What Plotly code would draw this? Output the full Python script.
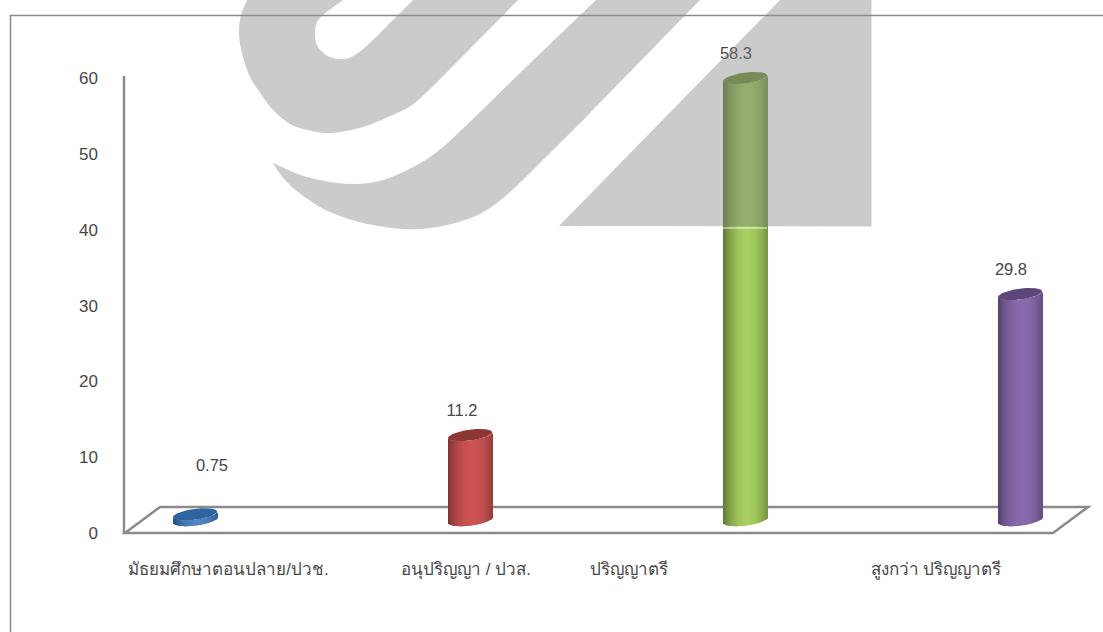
import re
import numpy as np
import plotly.graph_objects as go

# Chart data
CATEGORIES = ["มัธยมศึกษาตอนปลาย/ปวช.", "อนุปริญญา / ปวส.", "ปริญญาตรี", "สูงกว่า ปริญญาตรี"]
VALUES = [0.75, 11.2, 58.3, 29.8]
Y_TICKS = [0, 10, 20, 30, 40, 50, 60]

# Colours per cylinder: shaded edge, lit centre, top cap
EDGE_RGB = [(36, 76, 128), (128, 50, 50), (94, 120, 50), (84, 64, 110)]
LIT_RGB = [(78, 132, 196), (204, 84, 82), (166, 206, 96), (138, 106, 172)]
CAP_RGB = [(48, 100, 160), (140, 54, 54), (117, 147, 63), (92, 70, 122)]

# Page geometry
W, H = 1103, 632
LEFT, TOP, BOTTOM = 124, 20, 533
PLOT_W, PLOT_H = W - LEFT, BOTTOM - TOP
PX_X = 275.0                  # pixels per category step
PX_Y = 7.58                   # pixels per value unit
Y_MAX = PLOT_H / PX_Y
AXIS_TOP = 60.3               # the visible vertical axis stops here
FIRST_BAR_PX = 195

# Cylinder geometry in axis units
FLOOR = 13 / PX_Y             # the bars stand on the receding floor
HALF_W = 22 / PX_X
CAP_B = 5.5 / PX_Y
TILT = 2.8 / PX_Y
SLICES = 44

# Offsets of the value labels from the top of each bar, and category label centres
LABEL_DX = [17, -8, -9, -9]
LABEL_DY = [47, 23, 23, 23]
CAT_LABEL_PX = [228.5, 466, 629, 936]

GREY = "#8a8a8a"
TEXT = "#474747"
FONT = "Liberation Sans, Noto Sans, sans-serif"


def rgb(c):
    return "rgb(%d,%d,%d)" % tuple(int(round(v)) for v in c)


def to_paper(path):
    """Convert an SVG path in page pixels to paper coordinates."""
    def conv(m):
        x, y = float(m.group(1)), float(m.group(2))
        return "%.5f,%.5f" % ((x - LEFT) / PLOT_W, (BOTTOM - y) / PLOT_H)
    return re.sub(r"(-?[\d.]+),(-?[\d.]+)", conv, path)


def smooth(pts):
    """Catmull-Rom curve through pts, as SVG cubic segments (without the initial move)."""
    out = []
    for i in range(len(pts) - 1):
        p0 = pts[max(i - 1, 0)]
        p1, p2 = pts[i], pts[i + 1]
        p3 = pts[min(i + 2, len(pts) - 1)]
        c1 = (p1[0] + (p2[0] - p0[0]) / 6, p1[1] + (p2[1] - p0[1]) / 6)
        c2 = (p2[0] - (p3[0] - p1[0]) / 6, p2[1] - (p3[1] - p1[1]) / 6)
        out.append("C%.1f,%.1f %.1f,%.1f %.1f,%.1f" % (*c1, *c2, *p2))
    return " ".join(out)


fig = go.Figure()

# Cylinder bodies: narrow vertical strips shaded from edge to centre
for k in range(SLICES):
    u = -1 + (2 * k + 1) / SLICES
    lens = CAP_B * np.sqrt(max(1 - u * u, 0))
    shade = min(abs(u - 0.1) / 1.1, 1) ** 2.0
    colors = [rgb(np.array(l) + (np.array(e) - np.array(l)) * shade)
              for l, e in zip(LIT_RGB, EDGE_RGB)]
    fig.add_bar(
        x=list(range(len(VALUES))),
        y=VALUES,
        base=FLOOR + TILT * u - lens,
        width=2 * HALF_W / SLICES * 1.15,
        offset=HALF_W * u - HALF_W / SLICES,
        marker=dict(color=colors, line=dict(width=0)),
        showlegend=False,
        hoverinfo="skip",
    )

# Top caps
theta = np.linspace(0, 2 * np.pi, 73)
for i, v in enumerate(VALUES):
    fig.add_scatter(
        x=i + HALF_W * np.cos(theta),
        y=FLOOR + v + TILT * np.cos(theta) + CAP_B * np.sin(theta),
        mode="lines",
        fill="toself",
        fillcolor=rgb(CAP_RGB[i]),
        line=dict(width=0),
        showlegend=False,
        hoverinfo="skip",
    )

# Value labels
fig.add_scatter(
    x=[i + dx / PX_X for i, dx in enumerate(LABEL_DX)],
    y=[FLOOR + v + dy / PX_Y for v, dy in zip(VALUES, LABEL_DY)],
    mode="text",
    text=[str(v) for v in VALUES],
    textposition="middle center",
    textfont=dict(family=FONT, size=16.5, color=TEXT),
    cliponaxis=False,
    showlegend=False,
    hoverinfo="skip",
)

# Emblem laid over the chart, plus the outer frame and the 3D floor outline
HOOK_OUTER = [(247, 0), (241, 15), (239, 33), (242, 53), (250, 77), (263, 97), (273, 110),
              (287, 122), (303, 129), (330, 133), (363, 127), (397, 113), (412, 105),
              (428, 91), (450, 69), (518, 0)]
HOOK_INNER = [(413, 0), (385, 28), (373, 40), (358, 53), (345, 59), (330, 57), (318, 47),
              (315, 32), (320, 18), (343, 0)]
SWOOSH_UPPER = [(273, 163), (307, 177), (350, 184), (383, 180), (417, 165), (443, 147),
                (480, 112), (520, 73), (596, 0)]
SWOOSH_LOWER = [(700, 0), (590, 113), (540, 163), (510, 192), (490, 208), (473, 217),
                (455, 223), (437, 227), (420, 229), (403, 229), (385, 227), (363, 223),
                (340, 216), (322, 208), (306, 198), (292, 187), (281, 175), (273, 163)]
EMBLEM = [
    "M247,0 " + smooth(HOOK_OUTER) + " L413,0 " + smooth(HOOK_INNER) + " Z",
    "M273,163 " + smooth(SWOOSH_UPPER) + " L700,0 " + smooth(SWOOSH_LOWER) + " Z",
    "M559,226 L780,0 L871.5,0 L871.5,226.5 Z",
]
shapes = [
    dict(type="path", path=to_paper("M125,533 L1053,533 L1088,507 L160,507 Z"),
         xref="paper", yref="paper", layer="below", line=dict(color=GREY, width=2.5)),
    # The vertical axis stops at the top tick, short of the plotting area's upper edge
    dict(type="line", xref="paper", yref="y", x0=0, x1=0, y0=0, y1=AXIS_TOP,
         layer="below", line=dict(color=GREY, width=2.5)),
]
for p in EMBLEM:
    shapes.append(dict(type="path", path=to_paper(p), xref="paper", yref="paper", layer="above",
                       fillcolor="rgba(129,129,129,0.41)", line=dict(width=0)))
shapes.append(dict(type="path", path=to_paper("M723,228 L767,228"), xref="paper", yref="paper",
                   layer="above", line=dict(color="rgba(255,255,255,0.45)", width=2)))
shapes.append(dict(type="path", path=to_paper("M10.5,632 L10.5,15.5 L1103,15.5"), xref="paper",
                   yref="paper", layer="above", line=dict(color=GREY, width=1.5)))

fig.update_layout(
    width=W,
    height=H,
    autosize=False,
    margin=dict(l=LEFT, r=0, t=TOP, b=H - BOTTOM, pad=0),
    barmode="overlay",
    plot_bgcolor="rgba(0,0,0,0)",
    paper_bgcolor="white",
    showlegend=False,
    hovermode=False,
    shapes=shapes,
    font=dict(family=FONT, color=TEXT),
    xaxis=dict(
        range=[(LEFT - FIRST_BAR_PX) / PX_X, (W - FIRST_BAR_PX) / PX_X],
        tickmode="array",
        tickvals=[(p - FIRST_BAR_PX) / PX_X for p in CAT_LABEL_PX],
        ticktext=CATEGORIES,
        tickfont=dict(family=FONT, size=17, color=TEXT),
        ticklen=0,
        ticklabelstandoff=24,
        showline=False,
        showgrid=False,
        zeroline=False,
    ),
    yaxis=dict(
        range=[0, Y_MAX],
        tickmode="array",
        tickvals=Y_TICKS,
        ticktext=[str(t) for t in Y_TICKS],
        tickfont=dict(family=FONT, size=17, color=TEXT),
        ticklen=0,
        ticklabelstandoff=25,
        showline=False,
        showgrid=False,
        zeroline=False,
    ),
)

fig.write_html("out.html")
